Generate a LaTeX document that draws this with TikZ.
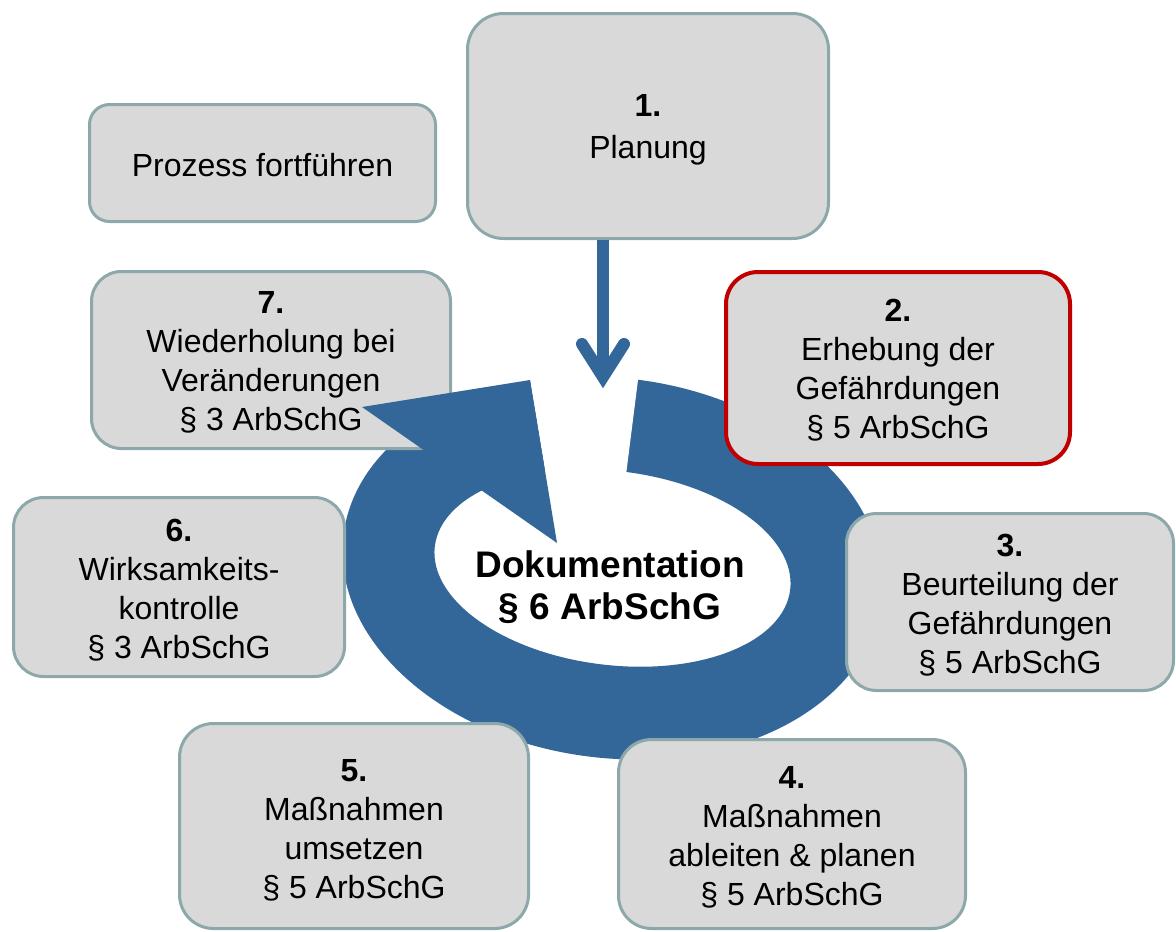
\documentclass[tikz,border=0pt]{standalone}
\usepackage{fontspec}
\setmainfont{Liberation Sans}
\usetikzlibrary{calc}
\definecolor{ringblue}{RGB}{52,103,153}
\definecolor{boxfill}{RGB}{217,217,217}
\definecolor{boxline}{RGB}{141,168,170}
\definecolor{hired}{RGB}{192,0,0}
\begin{document}
\begin{tikzpicture}[x=1pt,y=-1pt,
  box/.style={draw=boxline, line width=3pt, fill=boxfill, rounded corners=#1, inner sep=0pt},
  redbox/.style={box=#1, draw=hired, line width=4pt},
  lbl/.style={align=center, inner sep=0pt, text=black, font=\fontsize{32}{39}\selectfont},
  lbltwo/.style={lbl, font=\fontsize{32}{42}\selectfont},
  shaft/.style={draw=ringblue, line width=12pt},
  chevron/.style={draw=ringblue, line width=12pt, line cap=round, line join=miter},
  doctext/.style={align=center, text=black, font=\bfseries\fontsize{37}{42}\selectfont}
]
\useasboundingbox (0,0) rectangle (1176,932);
\fill[white] (0,0) rectangle (1176,932);
\begin{scope}
\clip (0,0) rectangle (1176,932);
% ring
\fill[ringblue, even odd rule, rotate around={-7:(612.5,568)}]
  (612.5,568) ellipse [x radius=271pt, y radius=190pt]
  (612.5,568) ellipse [x radius=179pt, y radius=97pt];
% gap of the ring
\fill[white] (523.4,340) -- (643,340) -- (638,380) -- (626,475) -- (615.3,560)
  -- (559.8,560) -- (557,543) -- (530,380) -- cycle;
% boxes
\node[box=20, minimum width=346pt, minimum height=117pt] (bP) at (262.5,163) {};
\node[box=36, minimum width=361pt, minimum height=225pt] (b1) at (648,126) {};
\node[box=30, minimum width=359pt, minimum height=177pt] (b7) at (271,360) {};
\node[redbox=32, minimum width=344pt, minimum height=192pt] (b2) at (898,368) {};
\node[box=30, minimum width=331pt, minimum height=179pt] (b6) at (179,587) {};
\node[box=30, minimum width=327pt, minimum height=177pt] (b3) at (1010,602) {};
\node[box=34, minimum width=349pt, minimum height=205pt] (b5) at (354,826) {};
\node[box=33, minimum width=347pt, minimum height=189pt] (b4) at (792,834) {};
% labels
\node[lbl] (tP) at ($(bP.center)+(0,2)$) {Prozess fortführen};
\node[lbltwo] (t1) at ($(b1.center)+(0,4)$) {\textbf{1.}\\Planung};
\node[lbl] (t7) at ($(b7.center)+(0,2.5)$) {\textbf{7.}\\Wiederholung bei\\Veränderungen\\§ 3 ArbSchG};
\node[lbl] (t2) at ($(b2.center)+(0,2.5)$) {\textbf{2.}\\Erhebung der\\Gefährdungen\\§ 5 ArbSchG};
\node[lbl] (t6) at ($(b6.center)+(0,3)$) {\textbf{6.}\\Wirksamkeits-\\kontrolle\\§ 3 ArbSchG};
\node[lbl] (t3) at ($(b3.center)+(0,3)$) {\textbf{3.}\\Beurteilung der\\Gefährdungen\\§ 5 ArbSchG};
\node[lbl] (t5) at ($(b5.center)+(0,4)$) {\textbf{5.}\\Maßnahmen\\umsetzen\\§ 5 ArbSchG};
\node[lbl] (t4) at ($(b4.center)+(0,3)$) {\textbf{4.}\\Maßnahmen\\ableiten \& planen\\§ 5 ArbSchG};
% arrow head of the ring (over box 7)
\fill[ringblue] (362,407) -- (530,380) -- (557,543) -- cycle;
% downward arrow from box 1
\coordinate (av) at (603,377);
\draw[shaft] (b1.south -| av) -- (av);
\draw[chevron] ($(av)+(-21,-33)$) -- (av) -- ($(av)+(21,-33)$);
% centre text
\node[doctext] (doc) at (610,587) {Dokumentation\\§ 6 ArbSchG};
\end{scope}
\end{tikzpicture}
\end{document}
